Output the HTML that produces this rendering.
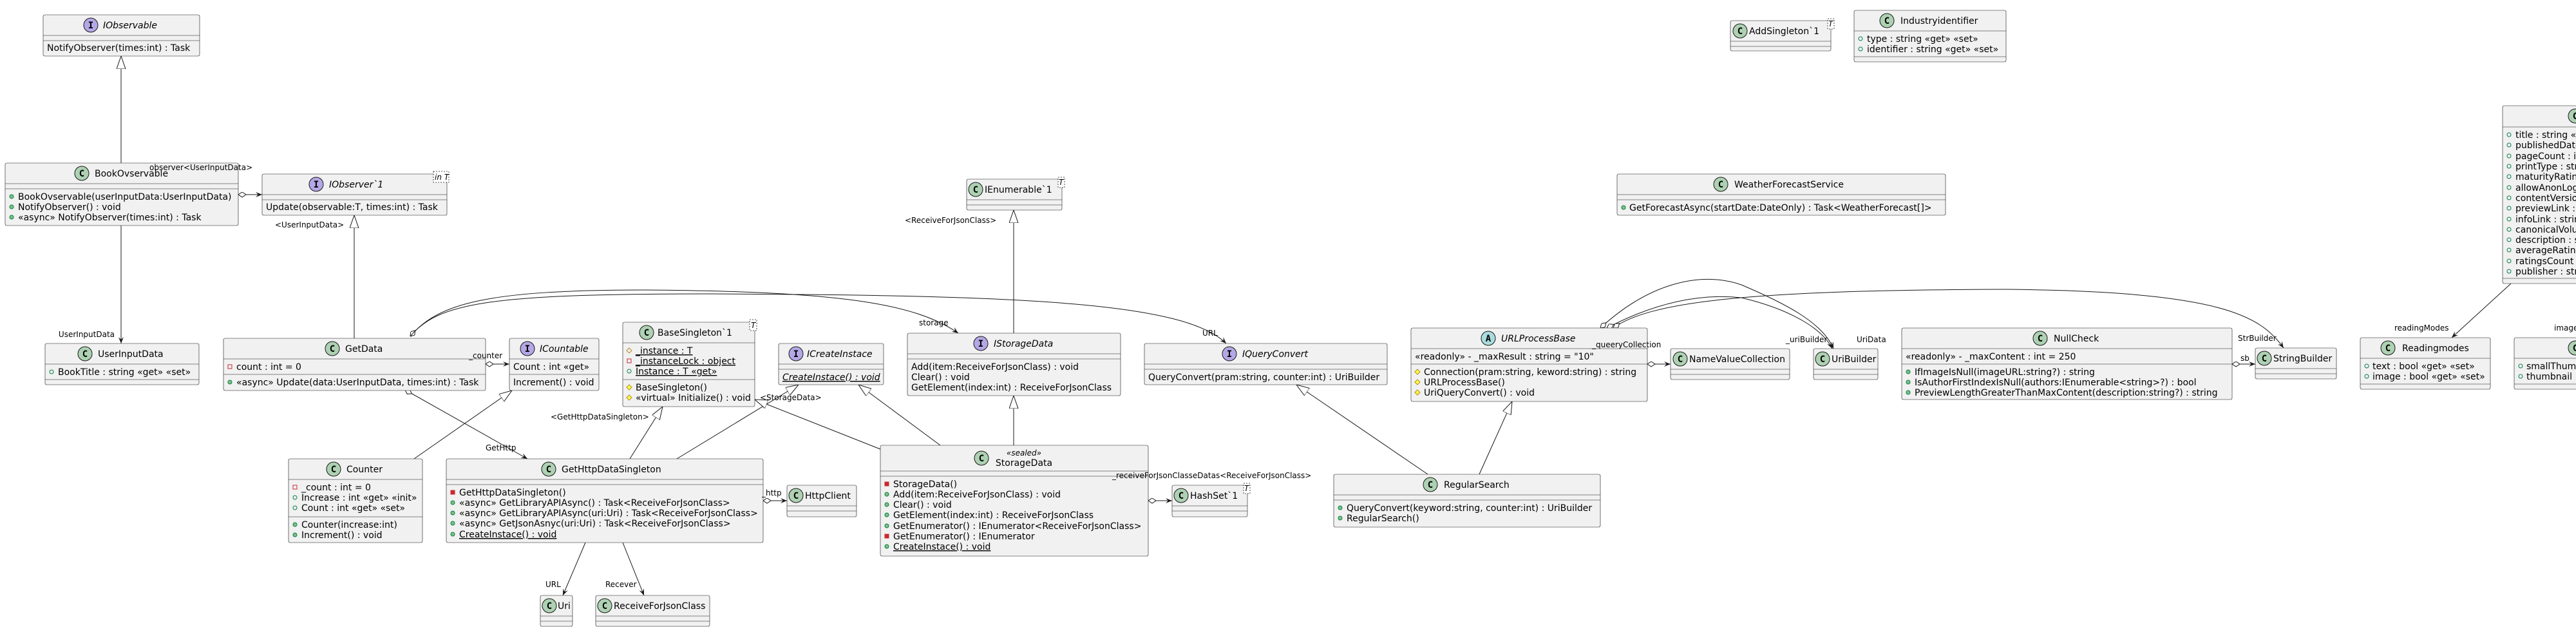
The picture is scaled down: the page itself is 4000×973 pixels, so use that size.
<!DOCTYPE html>
<html><head><meta charset="utf-8"><style>
html,body{margin:0;padding:0;background:#fff;}
svg{display:block;}
text{font-family:"DejaVu Sans","Liberation Sans",sans-serif;fill:#000;}
.b{fill:#F1F1F1;stroke:#181818;stroke-width:0.6;}
.s{stroke:#181818;stroke-width:0.6;}
.n{font-size:14px;}
.m{font-size:14px;}
.it{font-style:italic;}
.u{text-decoration:underline;}
.l{font-size:12px;}
.e{fill:none;stroke:#181818;stroke-width:1;}
.ci{stroke:#181818;stroke-width:1;}
.cl{font-size:14px;font-weight:bold;font-family:"DejaVu Sans Mono","Liberation Mono",monospace;}
.tp{fill:#fff;stroke:#181818;stroke-width:0.8;stroke-dasharray:2,2;}
.pf{fill:none;stroke:#038048;stroke-width:1;}
.pm{fill:#84BE84;stroke:#038048;stroke-width:1;}
.vf{fill:none;stroke:#C82930;stroke-width:1;}
.vm{fill:#C82930;stroke:#C82930;stroke-width:1;}
.rf{fill:none;stroke:#B38D22;stroke-width:1;}
.rm{fill:#FFFF44;stroke:#B38D22;stroke-width:1;}
</style></head><body>
<svg width="4000" height="973" viewBox="0 0 4000 973" xmlns="http://www.w3.org/2000/svg">
<defs>
<marker id="ar" markerUnits="userSpaceOnUse" markerWidth="12" markerHeight="10" refX="10" refY="4" orient="auto"><path d="M0,0 L10,4 L0,8 L4,4 z" fill="#181818"/></marker>
<marker id="tr" markerUnits="userSpaceOnUse" markerWidth="22" markerHeight="16" refX="20" refY="7" orient="auto"><path d="M0,0 L20,7 L0,14 z" fill="#fff" stroke="#181818" stroke-width="1"/></marker>
<marker id="di" markerUnits="userSpaceOnUse" markerWidth="14" markerHeight="10" refX="0" refY="4" orient="auto"><path d="M0,4 L6,0 L12,4 L6,8 z" fill="#fff" stroke="#181818" stroke-width="1"/></marker>
</defs>

<!-- ===== Edges ===== -->
<line class="e" x1="188" y1="253" x2="188" y2="87" marker-end="url(#tr)"/>
<line class="e" x1="188" y1="350" x2="188" y2="533" marker-end="url(#ar)"/>
<line class="e" x1="370" y1="302" x2="407" y2="302" marker-start="url(#di)" marker-end="url(#ar)"/>
<line class="e" x1="550" y1="525" x2="550" y2="334" marker-end="url(#tr)"/>
<line class="e" x1="754" y1="565" x2="791" y2="565" marker-start="url(#di)" marker-end="url(#ar)"/>
<line class="e" x1="629" y1="605" x2="819" y2="712" marker-start="url(#di)" marker-end="url(#ar)"/>
<line class="e" x1="643" y1="712" x2="795" y2="606" marker-end="url(#tr)"/>
<path class="e" d="M637,522 C680,470 760,450 1000,450 C1300,452 1420,470 1488,517" marker-start="url(#di)" marker-end="url(#ar)"/>
<path class="e" d="M637,522 C680,470 760,456 1100,456 C1600,458 1840,470 1904,533" marker-end="url(#ar)"/>
<line class="e" x1="978" y1="712" x2="1029" y2="631" marker-end="url(#tr)"/>
<line class="e" x1="1051" y1="712" x2="1240" y2="597" marker-end="url(#tr)"/>
<line class="e" x1="1367" y1="697" x2="1172" y2="620" marker-end="url(#tr)"/>
<line class="e" x1="1460" y1="691" x2="1333" y2="597" marker-end="url(#tr)"/>
<line class="e" x1="1574" y1="691" x2="1574" y2="614" marker-end="url(#tr)"/>
<line class="e" x1="1574" y1="517" x2="1574" y2="326" marker-end="url(#tr)"/>
<line class="e" x1="1185" y1="777" x2="1222" y2="777" marker-start="url(#di)" marker-end="url(#ar)"/>
<line class="e" x1="1783" y1="777" x2="1820" y2="777" marker-start="url(#di)" marker-end="url(#ar)"/>
<line class="e" x1="909" y1="842" x2="874" y2="924" marker-end="url(#ar)"/>
<line class="e" x1="967" y1="842" x2="1000" y2="924" marker-end="url(#ar)"/>
<line class="e" x1="2217" y1="736" x2="2013" y2="597" marker-end="url(#tr)"/>
<line class="e" x1="2297" y1="736" x2="2348" y2="623" marker-end="url(#tr)"/>
<line class="e" x1="2558" y1="565" x2="2594" y2="565" marker-start="url(#di)" marker-end="url(#ar)"/>
<path class="e" d="M2485,509 C2560,440 2640,420 2704,442 C2770,470 2830,500 2847,541" marker-start="url(#di)" marker-end="url(#ar)"/>
<path class="e" d="M2495,509 C2570,470 2640,455 2704,462 C2780,480 2830,510 2845,541" marker-start="url(#di)" marker-end="url(#ar)"/>
<path class="e" d="M2505,509 C2560,470 2700,450 3112,449 C3450,452 3510,490 3546,540" marker-start="url(#di)" marker-end="url(#ar)"/>
<line class="e" x1="3466" y1="565" x2="3502" y2="565" marker-start="url(#di)" marker-end="url(#ar)"/>
<line class="e" x1="3899" y1="440" x2="3807" y2="524" marker-end="url(#ar)"/>

<!-- ===== IObservable ===== -->
<rect class="b" x="67" y="23" width="243" height="64" rx="2.5"/>
<line class="s" x1="67" y1="55" x2="310" y2="55"/><line class="s" x1="67" y1="63" x2="310" y2="63"/>
<circle class="ci" cx="141" cy="39" r="11" fill="#B4A7E5"/><text class="cl" x="141" y="44" text-anchor="middle">I</text>
<text class="n it" x="160" y="44">IObservable</text>
<text class="m" x="73" y="79">NotifyObserver(times:int) : Task</text>

<!-- ===== BookOvservable ===== -->
<rect class="b" x="8" y="253" width="362" height="97" rx="2.5"/>
<line class="s" x1="8" y1="285" x2="370" y2="285"/><line class="s" x1="8" y1="293" x2="370" y2="293"/>
<circle class="ci" cx="127" cy="269" r="11" fill="#ADD1B2"/><text class="cl" x="127" y="274" text-anchor="middle">C</text>
<text class="n" x="147" y="274">BookOvservable</text>
<circle class="pm" cx="18" cy="305" r="3"/><text class="m" x="28" y="310">BookOvservable(userInputData:UserInputData)</text>
<circle class="pm" cx="18" cy="321" r="3"/><text class="m" x="28" y="326">NotifyObserver() : void</text>
<circle class="pm" cx="18" cy="337" r="3"/><text class="m" x="28" y="342">«async» NotifyObserver(times:int) : Task</text>

<!-- ===== IObserver`1 ===== -->
<rect class="b" x="407" y="270" width="287" height="64" rx="2.5"/>
<line class="s" x1="407" y1="302" x2="694" y2="302"/><line class="s" x1="407" y1="310" x2="694" y2="310"/>
<circle class="ci" cx="491" cy="286" r="11" fill="#B4A7E5"/><text class="cl" x="491" y="291" text-anchor="middle">I</text>
<text class="n it" x="511" y="291">IObserver`1</text>
<rect class="tp" x="673" y="266" width="24" height="17"/><text class="l it" x="675" y="279">in T</text>
<text class="m" x="413" y="326">Update(observable:T, times:int) : Task</text>

<!-- ===== UserInputData ===== -->
<rect class="b" x="70" y="533" width="239" height="64" rx="2.5"/>
<line class="s" x1="70" y1="565" x2="309" y2="565"/><line class="s" x1="70" y1="589" x2="309" y2="589"/>
<circle class="ci" cx="132" cy="549" r="11" fill="#ADD1B2"/><text class="cl" x="132" y="554" text-anchor="middle">C</text>
<text class="n" x="152" y="554">UserInputData</text>
<circle class="pf" cx="80" cy="577" r="3"/><text class="m" x="90" y="582">BookTitle : string «get» «set»</text>

<!-- ===== GetData ===== -->
<rect class="b" x="347" y="525" width="407" height="81" rx="2.5"/>
<line class="s" x1="347" y1="557" x2="754" y2="557"/><line class="s" x1="347" y1="581" x2="754" y2="581"/>
<circle class="ci" cx="516" cy="541" r="11" fill="#ADD1B2"/><text class="cl" x="516" y="546" text-anchor="middle">C</text>
<text class="n" x="536" y="546">GetData</text>
<rect class="vf" x="354" y="566" width="6" height="6"/><text class="m" x="367" y="574">count : int = 0</text>
<circle class="pm" cx="357" cy="593" r="3"/><text class="m" x="367" y="598">«async» Update(data:UserInputData, times:int) : Task</text>

<!-- ===== ICountable ===== -->
<rect class="b" x="791" y="525" width="139" height="81" rx="2.5"/>
<line class="s" x1="791" y1="557" x2="930" y2="557"/><line class="s" x1="791" y1="581" x2="930" y2="581"/>
<circle class="ci" cx="819" cy="541" r="11" fill="#B4A7E5"/><text class="cl" x="819" y="546" text-anchor="middle">I</text>
<text class="n it" x="838" y="546">ICountable</text>
<text class="m" x="797" y="574">Count : int «get»</text>
<text class="m" x="797" y="598">Increment() : void</text>

<!-- ===== BaseSingleton`1 ===== -->
<rect class="b" x="967" y="500" width="205" height="131" rx="2.5"/>
<line class="s" x1="967" y1="532" x2="1172" y2="532"/><line class="s" x1="967" y1="589" x2="1172" y2="589"/>
<circle class="ci" cx="1004" cy="516" r="11" fill="#ADD1B2"/><text class="cl" x="1004" y="521" text-anchor="middle">C</text>
<text class="n" x="1021" y="521">BaseSingleton`1</text>
<rect class="tp" x="1164" y="496" width="11" height="17"/><text class="l it" x="1166" y="509">T</text>
<path class="rf" d="M977,540 L981,544 L977,548 L973,544 z"/><text class="m u" x="987" y="549">_instance : T</text>
<rect class="vf" x="974" y="557" width="6" height="6"/><text class="m u" x="987" y="565">_instanceLock : object</text>
<circle class="pf" cx="977" cy="576" r="3"/><text class="m u" x="987" y="581">Instance : T «get»</text>
<path class="rm" d="M977,597 L981,601 L977,605 L973,601 z"/><text class="m" x="987" y="606">BaseSingleton()</text>
<path class="rm" d="M977,613 L981,617 L977,621 L973,617 z"/><text class="m" x="987" y="622">«virtual» Initialize() : void</text>

<!-- ===== ICreateInstace ===== -->
<rect class="b" x="1209" y="533" width="163" height="64" rx="2.5"/>
<line class="s" x1="1209" y1="565" x2="1372" y2="565"/><line class="s" x1="1209" y1="573" x2="1372" y2="573"/>
<circle class="ci" cx="1236" cy="549" r="11" fill="#B4A7E5"/><text class="cl" x="1236" y="554" text-anchor="middle">I</text>
<text class="n it" x="1253" y="554">ICreateInstace</text>
<text class="m it u" x="1215" y="590">CreateInstace() : void</text>

<!-- ===== IStorageData ===== -->
<rect class="b" x="1409" y="517" width="331" height="97" rx="2.5"/>
<line class="s" x1="1409" y1="549" x2="1740" y2="549"/><line class="s" x1="1409" y1="557" x2="1740" y2="557"/>
<circle class="ci" cx="1523" cy="533" r="11" fill="#B4A7E5"/><text class="cl" x="1523" y="538" text-anchor="middle">I</text>
<text class="n it" x="1543" y="538">IStorageData</text>
<text class="m" x="1415" y="574">Add(item:ReceiveForJsonClass) : void</text>
<text class="m" x="1415" y="590">Clear() : void</text>
<text class="m" x="1415" y="606">GetElement(index:int) : ReceiveForJsonClass</text>

<!-- ===== IQueryConvert ===== -->
<rect class="b" x="1777" y="533" width="377" height="64" rx="2.5"/>
<line class="s" x1="1777" y1="565" x2="2154" y2="565"/><line class="s" x1="1777" y1="573" x2="2154" y2="573"/>
<circle class="ci" cx="1909" cy="549" r="11" fill="#B4A7E5"/><text class="cl" x="1909" y="554" text-anchor="middle">I</text>
<text class="n it" x="1929" y="554">IQueryConvert</text>
<text class="m" x="1783" y="590">QueryConvert(pram:string, counter:int) : UriBuilder</text>

<!-- ===== IEnumerable`1 ===== -->
<rect class="b" x="1501" y="278" width="148" height="48" rx="2.5"/>
<line class="s" x1="1501" y1="310" x2="1649" y2="310"/><line class="s" x1="1501" y1="318" x2="1649" y2="318"/>
<circle class="ci" cx="1515" cy="294" r="11" fill="#ADD1B2"/><text class="cl" x="1515" y="299" text-anchor="middle">C</text>
<text class="n" x="1529" y="299">IEnumerable`1</text>
<rect class="tp" x="1643" y="275" width="10" height="16"/><text class="l it" x="1644" y="287">T</text>

<!-- ===== Counter ===== -->
<rect class="b" x="448" y="712" width="208" height="130" rx="2.5"/>
<line class="s" x1="448" y1="744" x2="656" y2="744"/><line class="s" x1="448" y1="802" x2="656" y2="802"/>
<circle class="ci" cx="518" cy="728" r="11" fill="#ADD1B2"/><text class="cl" x="518" y="733" text-anchor="middle">C</text>
<text class="n" x="538" y="733">Counter</text>
<rect class="vf" x="455" y="753" width="6" height="6"/><text class="m" x="468" y="761">_count : int = 0</text>
<circle class="pf" cx="458" cy="772" r="3"/><text class="m" x="468" y="777">Increase : int «get» «init»</text>
<circle class="pf" cx="458" cy="788" r="3"/><text class="m" x="468" y="793">Count : int «get» «set»</text>
<circle class="pm" cx="458" cy="814" r="3"/><text class="m" x="468" y="819">Counter(increase:int)</text>
<circle class="pm" cx="458" cy="830" r="3"/><text class="m" x="468" y="835">Increment() : void</text>

<!-- ===== GetHttpDataSingleton ===== -->
<rect class="b" x="693" y="712" width="492" height="130" rx="2.5"/>
<line class="s" x1="693" y1="744" x2="1185" y2="744"/><line class="s" x1="693" y1="752" x2="1185" y2="752"/>
<circle class="ci" cx="852" cy="728" r="11" fill="#ADD1B2"/><text class="cl" x="852" y="733" text-anchor="middle">C</text>
<text class="n" x="872" y="733">GetHttpDataSingleton</text>
<rect class="vm" x="700" y="761" width="6" height="6"/><text class="m" x="713" y="769">GetHttpDataSingleton()</text>
<circle class="pm" cx="703" cy="780" r="3"/><text class="m" x="713" y="785">«async» GetLibraryAPIAsync() : Task&lt;ReceiveForJsonClass&gt;</text>
<circle class="pm" cx="703" cy="796" r="3"/><text class="m" x="713" y="801">«async» GetLibraryAPIAsync(uri:Uri) : Task&lt;ReceiveForJsonClass&gt;</text>
<circle class="pm" cx="703" cy="812" r="3"/><text class="m" x="713" y="817">«async» GetJsonAsnyc(uri:Uri) : Task&lt;ReceiveForJsonClass&gt;</text>
<circle class="pm" cx="703" cy="829" r="3"/><text class="m u" x="713" y="834">CreateInstace() : void</text>

<!-- ===== HttpClient ===== -->
<rect class="b" x="1222" y="753" width="108" height="49" rx="2.5"/>
<line class="s" x1="1222" y1="785" x2="1330" y2="785"/><line class="s" x1="1222" y1="793" x2="1330" y2="793"/>
<circle class="ci" cx="1236" cy="769" r="11" fill="#ADD1B2"/><text class="cl" x="1236" y="774" text-anchor="middle">C</text>
<text class="n" x="1250" y="774">HttpClient</text>

<!-- ===== StorageData ===== -->
<rect class="b" x="1367" y="691" width="416" height="172" rx="2.5"/>
<line class="s" x1="1367" y1="731" x2="1783" y2="731"/><line class="s" x1="1367" y1="739" x2="1783" y2="739"/>
<circle class="ci" cx="1524" cy="711" r="11" fill="#ADD1B2"/><text class="cl" x="1524" y="716" text-anchor="middle">C</text>
<text class="l it" x="1590" y="707" text-anchor="middle">«sealed»</text>
<text class="n" x="1590" y="723" text-anchor="middle">StorageData</text>
<rect class="vm" x="1374" y="748" width="6" height="6"/><text class="m" x="1387" y="756">StorageData()</text>
<circle class="pm" cx="1377" cy="767" r="3"/><text class="m" x="1387" y="772">Add(item:ReceiveForJsonClass) : void</text>
<circle class="pm" cx="1377" cy="783" r="3"/><text class="m" x="1387" y="788">Clear() : void</text>
<circle class="pm" cx="1377" cy="799" r="3"/><text class="m" x="1387" y="804">GetElement(index:int) : ReceiveForJsonClass</text>
<circle class="pm" cx="1377" cy="816" r="3"/><text class="m" x="1387" y="821">GetEnumerator() : IEnumerator&lt;ReceiveForJsonClass&gt;</text>
<rect class="vm" x="1374" y="829" width="6" height="6"/><text class="m" x="1387" y="837">GetEnumerator() : IEnumerator</text>
<circle class="pm" cx="1377" cy="848" r="3"/><text class="m u" x="1387" y="853">CreateInstace() : void</text>

<!-- ===== HashSet`1 ===== -->
<rect class="b" x="1820" y="753" width="117" height="49" rx="2.5"/>
<line class="s" x1="1820" y1="785" x2="1937" y2="785"/><line class="s" x1="1820" y1="793" x2="1937" y2="793"/>
<circle class="ci" cx="1834" cy="769" r="11" fill="#ADD1B2"/><text class="cl" x="1834" y="774" text-anchor="middle">C</text>
<text class="n" x="1848" y="774">HashSet`1</text>
<rect class="tp" x="1931" y="750" width="10" height="16"/><text class="l it" x="1932" y="762">T</text>

<!-- ===== Uri / ReceiveForJsonClass ===== -->
<rect class="b" x="839" y="924" width="50" height="48" rx="2.5"/>
<line class="s" x1="839" y1="956" x2="889" y2="956"/><line class="s" x1="839" y1="964" x2="889" y2="964"/>
<circle class="ci" cx="853" cy="940" r="11" fill="#ADD1B2"/><text class="cl" x="853" y="945" text-anchor="middle">C</text>
<text class="n" x="866" y="945">Uri</text>
<rect class="b" x="925" y="924" width="177" height="48" rx="2.5"/>
<line class="s" x1="925" y1="956" x2="1102" y2="956"/><line class="s" x1="925" y1="964" x2="1102" y2="964"/>
<circle class="ci" cx="939" cy="940" r="11" fill="#ADD1B2"/><text class="cl" x="939" y="945" text-anchor="middle">C</text>
<text class="n" x="953" y="945">ReceiveForJsonClass</text>

<!-- ===== URLProcessBase ===== -->
<rect class="b" x="2191" y="509" width="367" height="114" rx="2.5"/>
<line class="s" x1="2191" y1="541" x2="2558" y2="541"/><line class="s" x1="2191" y1="565" x2="2558" y2="565"/>
<circle class="ci" cx="2311" cy="525" r="11" fill="#A9DCDF"/><text class="cl" x="2311" y="530" text-anchor="middle">A</text>
<text class="n it" x="2331" y="530">URLProcessBase</text>
<text class="m" x="2197" y="558">«readonly» - _maxResult : string = "10"</text>
<path class="rm" d="M2201,573 L2205,577 L2201,581 L2197,577 z"/><text class="m" x="2211" y="582">Connection(pram:string, keword:string) : string</text>
<path class="rm" d="M2201,589 L2205,593 L2201,597 L2197,593 z"/><text class="m" x="2211" y="598">URLProcessBase()</text>
<path class="rm" d="M2201,605 L2205,609 L2201,613 L2197,609 z"/><text class="m" x="2211" y="614">UriQueryConvert() : void</text>

<!-- ===== NameValueCollection / UriBuilder ===== -->
<rect class="b" x="2594" y="541" width="185" height="48" rx="2.5"/>
<line class="s" x1="2594" y1="573" x2="2779" y2="573"/><line class="s" x1="2594" y1="581" x2="2779" y2="581"/>
<circle class="ci" cx="2609" cy="557" r="11" fill="#ADD1B2"/><text class="cl" x="2609" y="562" text-anchor="middle">C</text>
<text class="n" x="2623" y="562">NameValueCollection</text>
<rect class="b" x="2816" y="541" width="100" height="48" rx="2.5"/>
<line class="s" x1="2816" y1="573" x2="2916" y2="573"/><line class="s" x1="2816" y1="581" x2="2916" y2="581"/>
<circle class="ci" cx="2830" cy="557" r="11" fill="#ADD1B2"/><text class="cl" x="2830" y="562" text-anchor="middle">C</text>
<text class="n" x="2844" y="562">UriBuilder</text>

<!-- ===== NullCheck ===== -->
<rect class="b" x="2953" y="509" width="513" height="111" rx="2.5"/>
<line class="s" x1="2953" y1="541" x2="3466" y2="541"/><line class="s" x1="2953" y1="565" x2="3466" y2="565"/>
<circle class="ci" cx="3168" cy="525" r="11" fill="#ADD1B2"/><text class="cl" x="3168" y="530" text-anchor="middle">C</text>
<text class="n" x="3189" y="530">NullCheck</text>
<text class="m" x="2959" y="558">«readonly» - _maxContent : int = 250</text>
<circle class="pm" cx="2963" cy="577" r="3"/><text class="m" x="2973" y="582">IfImageIsNull(imageURL:string?) : string</text>
<circle class="pm" cx="2963" cy="593" r="3"/><text class="m" x="2973" y="598">IsAuthorFirstIndexIsNull(authors:IEnumerable&lt;string&gt;?) : bool</text>
<circle class="pm" cx="2963" cy="609" r="3"/><text class="m" x="2973" y="614">PreviewLengthGreaterThanMaxContent(description:string?) : string</text>

<!-- ===== StringBuilder ===== -->
<rect class="b" x="3502" y="540" width="126" height="48" rx="2.5"/>
<line class="s" x1="3502" y1="572" x2="3628" y2="572"/><line class="s" x1="3502" y1="580" x2="3628" y2="580"/>
<circle class="ci" cx="3516" cy="556" r="11" fill="#ADD1B2"/><text class="cl" x="3516" y="561" text-anchor="middle">C</text>
<text class="n" x="3530" y="561">StringBuilder</text>

<!-- ===== RegularSearch ===== -->
<rect class="b" x="2071" y="736" width="414" height="82" rx="2.5"/>
<line class="s" x1="2071" y1="768" x2="2485" y2="768"/><line class="s" x1="2071" y1="776" x2="2485" y2="776"/>
<circle class="ci" cx="2221" cy="752" r="11" fill="#ADD1B2"/><text class="cl" x="2221" y="757" text-anchor="middle">C</text>
<text class="n" x="2242" y="757">RegularSearch</text>
<circle class="pm" cx="2081" cy="788" r="3"/><text class="m" x="2091" y="793">QueryConvert(keyword:string, counter:int) : UriBuilder</text>
<circle class="pm" cx="2081" cy="804" r="3"/><text class="m" x="2091" y="809">RegularSearch()</text>

<!-- ===== WeatherForecastService ===== -->
<rect class="b" x="2511" y="270" width="510" height="64" rx="2.5"/>
<line class="s" x1="2511" y1="302" x2="3021" y2="302"/><line class="s" x1="2511" y1="310" x2="3021" y2="310"/>
<circle class="ci" cx="2672" cy="286" r="11" fill="#ADD1B2"/><text class="cl" x="2672" y="291" text-anchor="middle">C</text>
<text class="n" x="2693" y="291">WeatherForecastService</text>
<circle class="pm" cx="2521" cy="322" r="3"/><text class="m" x="2530" y="327">GetForecastAsync(startDate:DateOnly) : Task&lt;WeatherForecast[]&gt;</text>

<!-- ===== AddSingleton`1 ===== -->
<rect class="b" x="2687" y="32" width="156" height="47" rx="2.5"/>
<line class="s" x1="2687" y1="64" x2="2843" y2="64"/><line class="s" x1="2687" y1="72" x2="2843" y2="72"/>
<circle class="ci" cx="2702" cy="48" r="11" fill="#ADD1B2"/><text class="cl" x="2702" y="53" text-anchor="middle">C</text>
<text class="n" x="2716" y="53">AddSingleton`1</text>
<rect class="tp" x="2838" y="29" width="10" height="16"/><text class="l it" x="2839" y="41">T</text>

<!-- ===== Industryidentifier ===== -->
<rect class="b" x="2879" y="16" width="236" height="80" rx="2.5"/>
<line class="s" x1="2879" y1="48" x2="3115" y2="48"/><line class="s" x1="2879" y1="88" x2="3115" y2="88"/>
<circle class="ci" cx="2930" cy="32" r="11" fill="#ADD1B2"/><text class="cl" x="2930" y="37" text-anchor="middle">C</text>
<text class="n" x="2951" y="37">Industryidentifier</text>
<circle class="pf" cx="2889" cy="60" r="3"/><text class="m" x="2899" y="65">type : string «get» «set»</text>
<circle class="pf" cx="2889" cy="76" r="3"/><text class="m" x="2899" y="81">identifier : string «get» «set»</text>

<!-- ===== Big class (cut) ===== -->
<rect class="b" x="3886" y="164" width="220" height="276" rx="2.5"/>
<line class="s" x1="3886" y1="197" x2="4106" y2="197"/><line class="s" x1="3886" y1="432" x2="4106" y2="432"/>
<circle class="ci" cx="3999" cy="180" r="11" fill="#ADD1B2"/><text class="cl" x="3999" y="185" text-anchor="middle">C</text>
<circle class="pf" cx="3896" cy="209" r="3"/><text class="m" x="3906" y="214">title : string «get» «set»</text>
<circle class="pf" cx="3896" cy="225" r="3"/><text class="m" x="3906" y="230">publishedDate : string «get» «set»</text>
<circle class="pf" cx="3896" cy="242" r="3"/><text class="m" x="3906" y="247">pageCount : int «get» «set»</text>
<circle class="pf" cx="3896" cy="258" r="3"/><text class="m" x="3906" y="263">printType : string «get» «set»</text>
<circle class="pf" cx="3896" cy="274" r="3"/><text class="m" x="3906" y="279">maturityRating : string «get» «set»</text>
<circle class="pf" cx="3896" cy="291" r="3"/><text class="m" x="3906" y="296">allowAnonLogging : bool «get» «set»</text>
<circle class="pf" cx="3896" cy="307" r="3"/><text class="m" x="3906" y="312">contentVersion : string «get» «set»</text>
<circle class="pf" cx="3896" cy="323" r="3"/><text class="m" x="3906" y="328">previewLink : string «get» «set»</text>
<circle class="pf" cx="3896" cy="340" r="3"/><text class="m" x="3906" y="345">infoLink : string «get» «set»</text>
<circle class="pf" cx="3896" cy="356" r="3"/><text class="m" x="3906" y="361">canonicalVolumeLink : string «get» «set»</text>
<circle class="pf" cx="3896" cy="372" r="3"/><text class="m" x="3906" y="377">description : string «get» «set»</text>
<circle class="pf" cx="3896" cy="388" r="3"/><text class="m" x="3906" y="393">averageRating : double «get» «set»</text>
<circle class="pf" cx="3896" cy="405" r="3"/><text class="m" x="3906" y="410">ratingsCount : int «get» «set»</text>
<circle class="pf" cx="3896" cy="421" r="3"/><text class="m" x="3906" y="426">publisher : string «get» «set»</text>

<!-- ===== Readingmodes ===== -->
<rect class="b" x="3665" y="524" width="202" height="80" rx="2.5"/>
<line class="s" x1="3665" y1="556" x2="3867" y2="556"/><line class="s" x1="3665" y1="596" x2="3867" y2="596"/>
<circle class="ci" cx="3708" cy="540" r="11" fill="#ADD1B2"/><text class="cl" x="3708" y="545" text-anchor="middle">C</text>
<text class="n" x="3730" y="545">Readingmodes</text>
<circle class="pf" cx="3675" cy="568" r="3"/><text class="m" x="3684" y="573">text : bool «get» «set»</text>
<circle class="pf" cx="3675" cy="584" r="3"/><text class="m" x="3684" y="589">image : bool «get» «set»</text>

<!-- ===== Imagelinks (cut) ===== -->
<rect class="b" x="3904" y="524" width="220" height="80" rx="2.5"/>
<line class="s" x1="3904" y1="556" x2="4124" y2="556"/><line class="s" x1="3904" y1="596" x2="4124" y2="596"/>
<circle class="ci" cx="3999" cy="540" r="11" fill="#ADD1B2"/><text class="cl" x="3999" y="545" text-anchor="middle">C</text>
<circle class="pf" cx="3914" cy="568" r="3"/><text class="m" x="3923" y="573">smallThumbnail : string «get» «set»</text>
<circle class="pf" cx="3914" cy="584" r="3"/><text class="m" x="3923" y="589">thumbnail : string «get» «set»</text>

<!-- ===== Labels (on top) ===== -->
<text class="l" x="178" y="523" text-anchor="end">UserInputData</text>
<text class="l" x="232" y="264">observer&lt;UserInputData&gt;</text>
<text class="l" x="427" y="353">&lt;UserInputData&gt;</text>
<text class="l" x="728" y="556">_counter</text>
<text class="l" x="754" y="699">GetHttp</text>
<text class="l" x="1427" y="505">storage</text>
<text class="l" x="1867" y="521">URL</text>
<text class="l" x="855" y="651">&lt;GetHttpDataSingleton&gt;</text>
<text class="l" x="1180" y="621">&lt;StorageData&gt;</text>
<text class="l" x="1405" y="346">&lt;ReceiveForJsonClass&gt;</text>
<text class="l" x="1183" y="769">_http</text>
<text class="l" x="1727" y="742">_receiveForJsonClasseDatas&lt;ReceiveForJsonClass&gt;</text>
<text class="l" x="847" y="911">URL</text>
<text class="l" x="940" y="911">Recever</text>
<text class="l" x="2472" y="539">_queeryCollection</text>
<text class="l" x="2773" y="531">_uriBuilder</text>
<text class="l" x="2883" y="531">UriData</text>
<text class="l" x="3475" y="529">StrBuilder</text>
<text class="l" x="3479" y="560">sb</text>
<text class="l" x="3718" y="513">readingModes</text>
<text class="l" x="3966" y="513">imageLinks</text>
</svg>
</body></html>
